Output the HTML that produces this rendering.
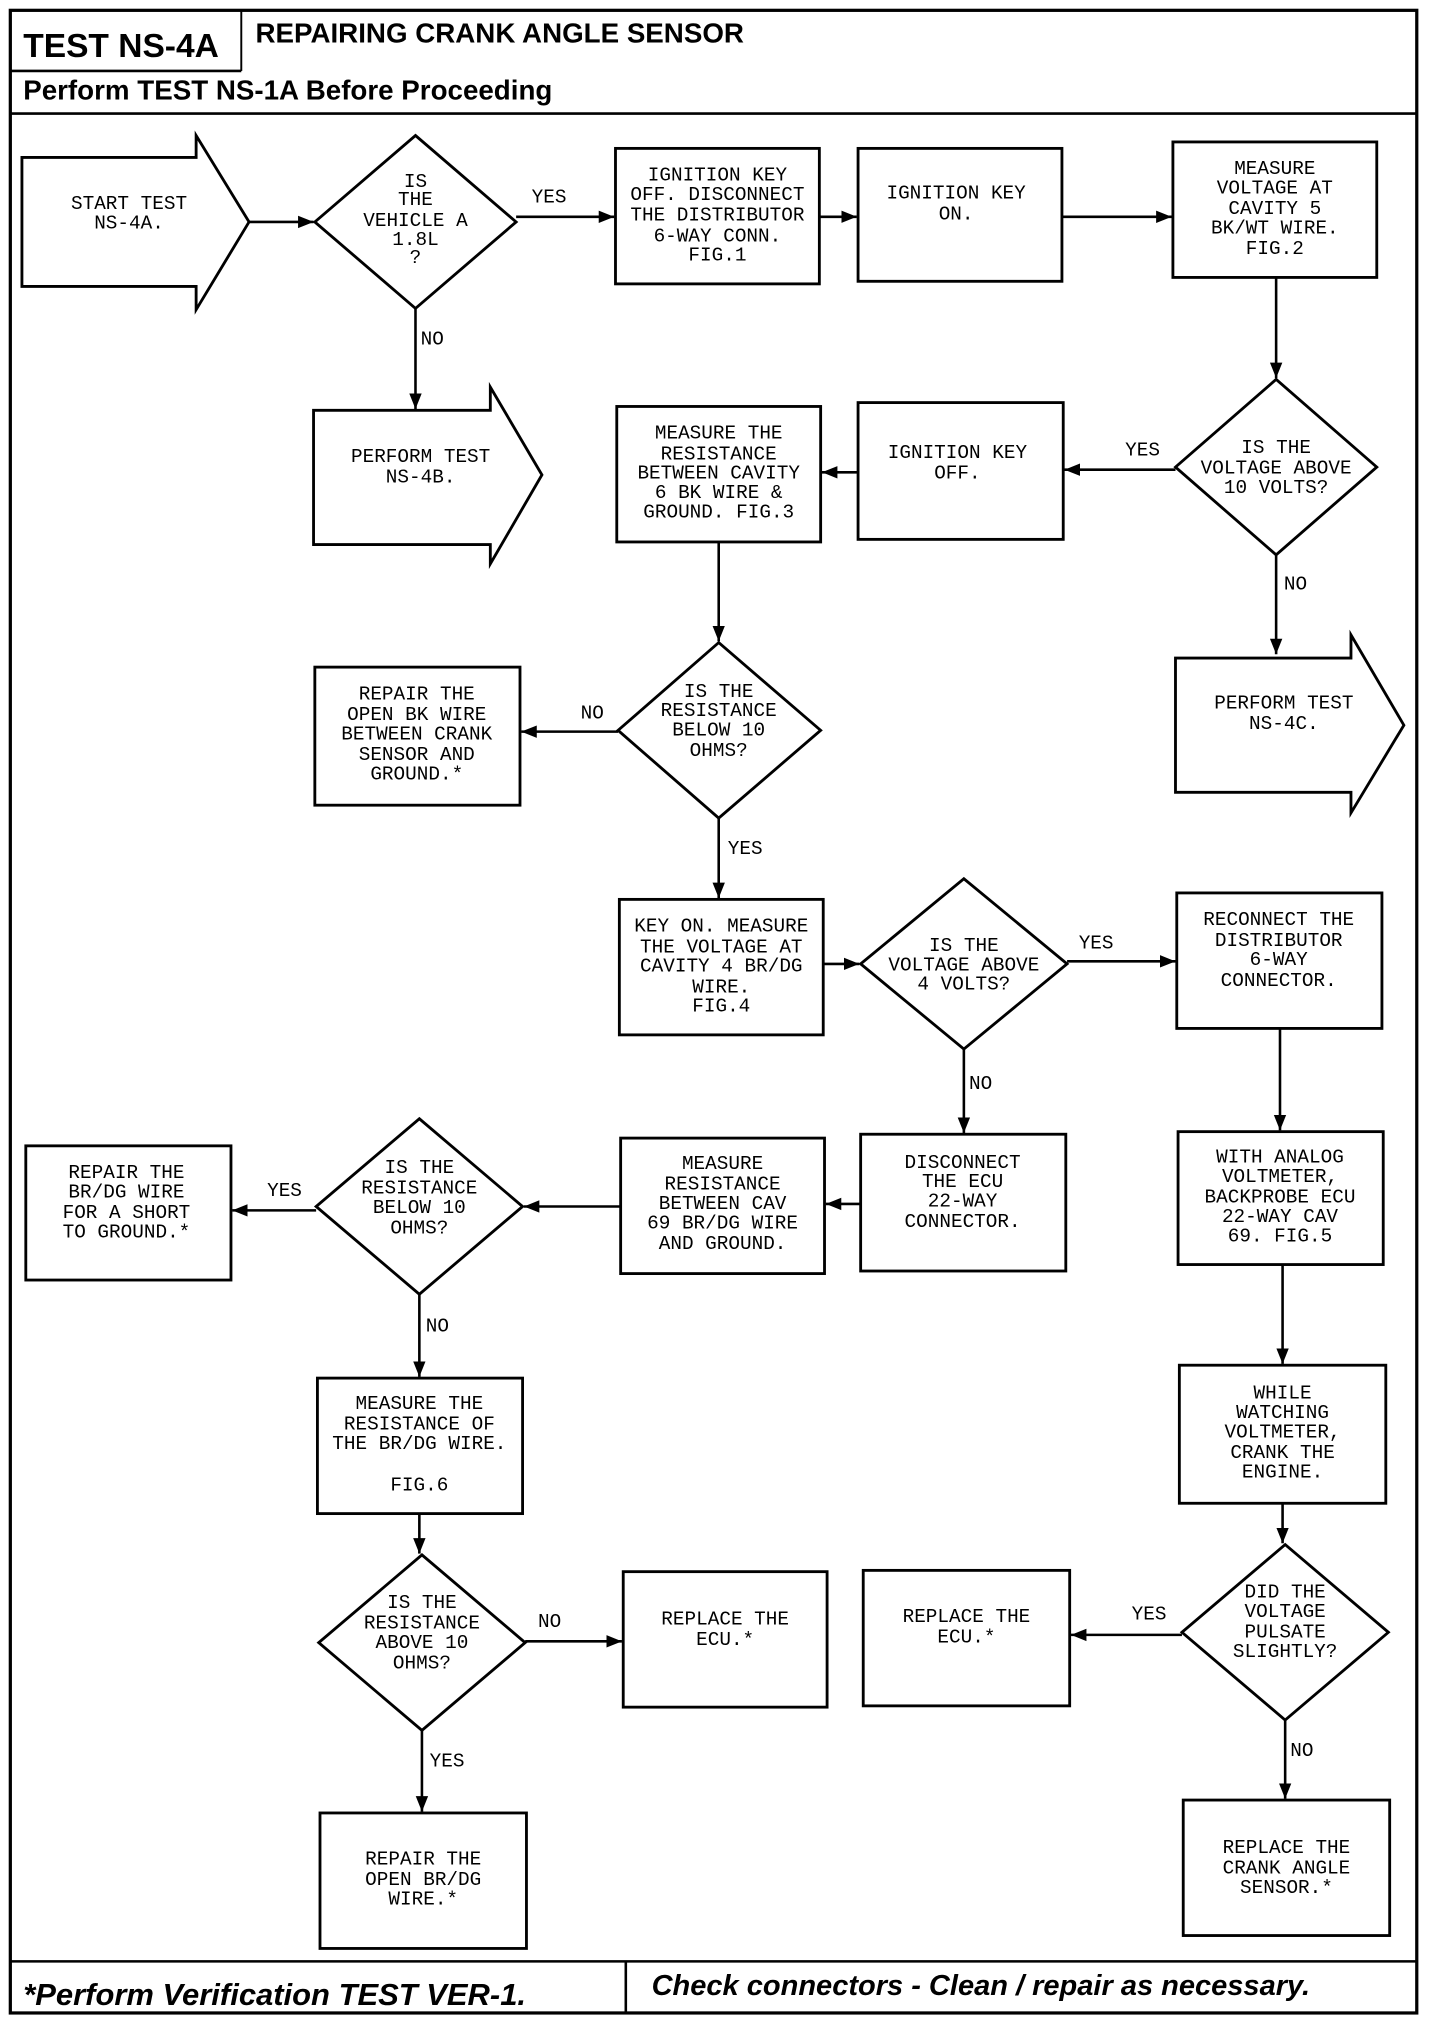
<!DOCTYPE html>
<html><head><meta charset="utf-8"><style>
html,body{margin:0;padding:0;background:#fff;}
svg{display:block;}
.t{font-family:"Liberation Mono","DejaVu Sans Mono",monospace;font-size:15px;text-anchor:middle;fill:#000;}
.l{font-family:"Liberation Mono","DejaVu Sans Mono",monospace;font-size:15px;fill:#000;}
.s{fill:#fff;stroke:#000;stroke-width:2.2;}
.c{stroke:#000;stroke-width:2;fill:none;}
.h{font-family:"Liberation Sans",sans-serif;font-weight:bold;fill:#000;}
</style></head><body>
<svg width="1440" height="2022" viewBox="0 0 1116 1567" preserveAspectRatio="none" xmlns="http://www.w3.org/2000/svg">
<defs><marker id="a" viewBox="0 0 10 10" refX="10" refY="5" markerWidth="6" markerHeight="6" orient="auto"><path d="M0,1 L10,5 L0,9 z" fill="#000"/></marker></defs>
<rect x="0" y="0" width="1116" height="1567" fill="#fff"/>
<rect x="8" y="8" width="1090" height="1552" fill="none" stroke="#000" stroke-width="2.5"/>
<line x1="8" y1="55" x2="187" y2="55" stroke="#000" stroke-width="2"/>
<line x1="187" y1="8" x2="187" y2="55" stroke="#000" stroke-width="1.5"/>
<line x1="8" y1="88" x2="1098" y2="88" stroke="#000" stroke-width="2"/>
<line x1="8" y1="1520" x2="1098" y2="1520" stroke="#000" stroke-width="2"/>
<line x1="485" y1="1520" x2="485" y2="1560" stroke="#000" stroke-width="2"/>
<text class="h" x="18" y="44" font-size="26">TEST NS-4A</text>
<text class="h" x="198" y="33" font-size="21.5">REPAIRING CRANK ANGLE SENSOR</text>
<text class="h" x="18" y="77" font-size="21.5">Perform TEST NS-1A Before Proceeding</text>
<text class="h" x="18" y="1554" font-size="24" font-style="italic">*Perform Verification TEST VER-1.</text>
<text class="h" x="505" y="1546" font-size="22.5" font-style="italic">Check connectors - Clean / repair as necessary.</text>

<g class="c" marker-end="url(#a)">
<line x1="193" y1="172" x2="243" y2="172"/>
<line x1="400" y1="168" x2="476" y2="168"/>
<line x1="635" y1="168" x2="664" y2="168"/>
<line x1="823" y1="168" x2="908" y2="168"/>
<line x1="989" y1="215" x2="989" y2="293"/>
<line x1="911" y1="364" x2="825" y2="364"/>
<line x1="665" y1="366" x2="637" y2="366"/>
<line x1="989" y1="430" x2="989" y2="507"/>
<line x1="322" y1="239" x2="322" y2="317"/>
<line x1="557" y1="420" x2="557" y2="497"/>
<line x1="479" y1="567" x2="404" y2="567"/>
<line x1="557" y1="634" x2="557" y2="696"/>
<line x1="638" y1="747" x2="666" y2="747"/>
<line x1="827" y1="745" x2="911" y2="745"/>
<line x1="992" y1="797" x2="992" y2="876"/>
<line x1="747" y1="813" x2="747" y2="878"/>
<line x1="667" y1="933" x2="640" y2="933"/>
<line x1="481" y1="935" x2="406" y2="935"/>
<line x1="245" y1="938" x2="180" y2="938"/>
<line x1="325" y1="1003" x2="325" y2="1067"/>
<line x1="325" y1="1173" x2="325" y2="1204"/>
<line x1="407" y1="1272" x2="482" y2="1272"/>
<line x1="327" y1="1341" x2="327" y2="1404"/>
<line x1="994" y1="980" x2="994" y2="1057"/>
<line x1="994" y1="1165" x2="994" y2="1196"/>
<line x1="916" y1="1267" x2="830" y2="1267"/>
<line x1="996" y1="1333" x2="996" y2="1394"/>
</g>

<polygon class="s" points="17,122 152,122 152,105 193,172 152,240 152,222 17,222"/>
<polygon class="s" points="243,318 380,318 380,300 420,368 380,437 380,422 243,422"/>
<polygon class="s" points="911,510 1047,510 1047,492 1088,562 1047,630 1047,614 911,614"/>
<polygon class="s" points="322,105 400,172 322,239 244,172"/>
<polygon class="s" points="989,294 1067,362 989,430 911,362"/>
<polygon class="s" points="557,498 636,566 557,634 479,566"/>
<polygon class="s" points="747,681 827,747 747,813 667,747"/>
<polygon class="s" points="325,867 405,935 325,1003 245,935"/>
<polygon class="s" points="327,1205 407,1273 327,1341 247,1273"/>
<polygon class="s" points="996,1197 1076,1265 996,1333 916,1265"/>
<rect class="s" x="477" y="115" width="158" height="105"/>
<rect class="s" x="665" y="115" width="158" height="103"/>
<rect class="s" x="909" y="110" width="158" height="105"/>
<rect class="s" x="665" y="312" width="159" height="106"/>
<rect class="s" x="478" y="315" width="158" height="105"/>
<rect class="s" x="244" y="517" width="159" height="107"/>
<rect class="s" x="480" y="697" width="158" height="105"/>
<rect class="s" x="912" y="692" width="159" height="105"/>
<rect class="s" x="913" y="877" width="159" height="103"/>
<rect class="s" x="667" y="879" width="159" height="106"/>
<rect class="s" x="481" y="882" width="158" height="105"/>
<rect class="s" x="20" y="888" width="159" height="104"/>
<rect class="s" x="246" y="1068" width="159" height="105"/>
<rect class="s" x="483" y="1218" width="158" height="105"/>
<rect class="s" x="248" y="1405" width="160" height="105"/>
<rect class="s" x="914" y="1058" width="160" height="107"/>
<rect class="s" x="669" y="1217" width="160" height="105"/>
<rect class="s" x="917" y="1395" width="160" height="105"/>

<g class="l">
<text x="412" y="157">YES</text>
<text x="326" y="267">NO</text>
<text x="872" y="353">YES</text>
<text x="995" y="457">NO</text>
<text x="450" y="557">NO</text>
<text x="564" y="662">YES</text>
<text x="836" y="735">YES</text>
<text x="751" y="844">NO</text>
<text x="207" y="927">YES</text>
<text x="330" y="1032">NO</text>
<text x="417" y="1261">NO</text>
<text x="333" y="1369">YES</text>
<text x="877" y="1255">YES</text>
<text x="1000" y="1361">NO</text>
</g>

<g class="t">
<text x="100" y="162">START TEST</text><text x="100" y="177">NS-4A.</text>
<text x="322" y="145">IS</text><text x="322" y="159">THE</text><text x="322" y="175">VEHICLE A</text><text x="322" y="190">1.8L</text><text x="322" y="204">?</text>
<text x="556" y="140">IGNITION KEY</text><text x="556" y="155">OFF. DISCONNECT</text><text x="556" y="171">THE DISTRIBUTOR</text><text x="556" y="187">6-WAY CONN.</text><text x="556" y="202">FIG.1</text>
<text x="741" y="154">IGNITION KEY</text><text x="741" y="170">ON.</text>
<text x="988" y="135">MEASURE</text><text x="988" y="150">VOLTAGE AT</text><text x="988" y="166">CAVITY 5</text><text x="988" y="181">BK/WT WIRE.</text><text x="988" y="197">FIG.2</text>
<text x="989" y="351">IS THE</text><text x="989" y="367">VOLTAGE ABOVE</text><text x="989" y="382">10 VOLTS?</text>
<text x="742" y="355">IGNITION KEY</text><text x="742" y="371">OFF.</text>
<text x="557" y="340">MEASURE THE</text><text x="557" y="356">RESISTANCE</text><text x="557" y="371">BETWEEN CAVITY</text><text x="557" y="386">6 BK WIRE &amp;</text><text x="557" y="401">GROUND. FIG.3</text>
<text x="326" y="358">PERFORM TEST</text><text x="326" y="374">NS-4B.</text>
<text x="995" y="549">PERFORM TEST</text><text x="995" y="565">NS-4C.</text>
<text x="557" y="540">IS THE</text><text x="557" y="555">RESISTANCE</text><text x="557" y="570">BELOW 10</text><text x="557" y="586">OHMS?</text>
<text x="323" y="542">REPAIR THE</text><text x="323" y="558">OPEN BK WIRE</text><text x="323" y="573">BETWEEN CRANK</text><text x="323" y="589">SENSOR AND</text><text x="323" y="604">GROUND.*</text>
<text x="559" y="722">KEY ON. MEASURE</text><text x="559" y="738">THE VOLTAGE AT</text><text x="559" y="753">CAVITY 4 BR/DG</text><text x="559" y="769">WIRE.</text><text x="559" y="784">FIG.4</text>
<text x="747" y="737">IS THE</text><text x="747" y="752">VOLTAGE ABOVE</text><text x="747" y="767">4 VOLTS?</text>
<text x="991" y="717">RECONNECT THE</text><text x="991" y="733">DISTRIBUTOR</text><text x="991" y="748">6-WAY</text><text x="991" y="764">CONNECTOR.</text>
<text x="992" y="901">WITH ANALOG</text><text x="992" y="916">VOLTMETER,</text><text x="992" y="932">BACKPROBE ECU</text><text x="992" y="947">22-WAY CAV</text><text x="992" y="962">69. FIG.5</text>
<text x="746" y="905">DISCONNECT</text><text x="746" y="920">THE ECU</text><text x="746" y="935">22-WAY</text><text x="746" y="951">CONNECTOR.</text>
<text x="560" y="906">MEASURE</text><text x="560" y="922">RESISTANCE</text><text x="560" y="937">BETWEEN CAV</text><text x="560" y="952">69 BR/DG WIRE</text><text x="560" y="968">AND GROUND.</text>
<text x="325" y="909">IS THE</text><text x="325" y="925">RESISTANCE</text><text x="325" y="940">BELOW 10</text><text x="325" y="956">OHMS?</text>
<text x="98" y="913">REPAIR THE</text><text x="98" y="928">BR/DG WIRE</text><text x="98" y="944">FOR A SHORT</text><text x="98" y="959">TO GROUND.*</text>
<text x="325" y="1092">MEASURE THE</text><text x="325" y="1108">RESISTANCE OF</text><text x="325" y="1123">THE BR/DG WIRE.</text><text x="325" y="1155">FIG.6</text>
<text x="327" y="1246">IS THE</text><text x="327" y="1262">RESISTANCE</text><text x="327" y="1277">ABOVE 10</text><text x="327" y="1293">OHMS?</text>
<text x="562" y="1259">REPLACE THE</text><text x="562" y="1275">ECU.*</text>
<text x="328" y="1445">REPAIR THE</text><text x="328" y="1461">OPEN BR/DG</text><text x="328" y="1476">WIRE.*</text>
<text x="994" y="1084">WHILE</text><text x="994" y="1099">WATCHING</text><text x="994" y="1114">VOLTMETER,</text><text x="994" y="1130">CRANK THE</text><text x="994" y="1145">ENGINE.</text>
<text x="996" y="1238">DID THE</text><text x="996" y="1253">VOLTAGE</text><text x="996" y="1269">PULSATE</text><text x="996" y="1284">SLIGHTLY?</text>
<text x="749" y="1257">REPLACE THE</text><text x="749" y="1273">ECU.*</text>
<text x="997" y="1436">REPLACE THE</text><text x="997" y="1452">CRANK ANGLE</text><text x="997" y="1467">SENSOR.*</text>
</g>
</svg>
</body></html>
